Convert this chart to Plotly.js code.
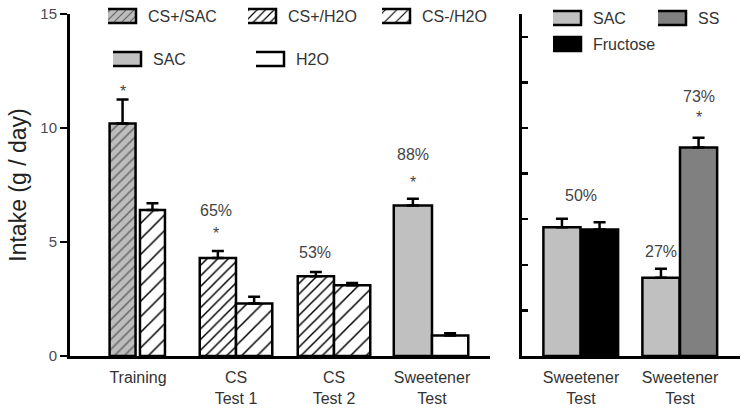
<!DOCTYPE html>
<html><head><meta charset="utf-8">
<script src="https://cdn.plot.ly/plotly-3.0.1.min.js"></script>
<style>html,body{margin:0;padding:0;background:#fff}#chart{width:749px;height:410px}</style>
</head><body><div id="chart"></div>
<script>
// ---- data ----
const leftCategories = ["Training", "CS<br>Test 1", "CS<br>Test 2", "Sweetener<br>Test"];
const rightTickLabels = ["Sweetener<br>Test", "Sweetener<br>Test"];

const csPlusSacX = ["Training"];
const csPlusSacY = [10.2];
const csPlusSacErr = [1.05];

const csPlusH2oX = ["CS<br>Test 1", "CS<br>Test 2"];
const csPlusH2oY = [4.3, 3.5];
const csPlusH2oErr = [0.3, 0.18];

const csMinusH2oX = ["Training", "CS<br>Test 1", "CS<br>Test 2"];
const csMinusH2oY = [6.4, 2.3, 3.1];
const csMinusH2oErr = [0.3, 0.3, 0.1];

const sacLeftX = ["Sweetener<br>Test"];
const sacLeftY = [6.6];
const sacLeftErr = [0.3];

const h2oX = ["Sweetener<br>Test"];
const h2oY = [0.9];
const h2oErr = [0.1];

const sacRightX = [0, 1];
const sacRightY = [5.65, 3.43];
const sacRightErr = [0.37, 0.4];

const fructoseX = [0];
const fructoseY = [5.55];
const fructoseErr = [0.32];

const ssX = [1];
const ssY = [9.15];
const ssErr = [0.42];

// annotation labels: text, group index on its axis, offset within group, y value, axis
const annTexts  = ["*", "65%", "*", "53%", "88%", "*", "50%", "27%", "73%", "*"];
const annGroup  = [0, 1, 1, 2, 3, 3, 0, 1, 1, 1];
const annOffset = [-0.15, -0.2, -0.2, -0.19, -0.19, -0.19, 0, -0.19, 0.19, 0.19];
const annY      = [11.58, 6.40, 5.39, 4.56, 8.82, 7.59, 7.04, 4.58, 11.38, 10.45];
const annAxis   = ["x", "x", "x", "x", "x", "x", "x2", "x2", "x2", "x2"];

// ---- style ----
const FONT = "Liberation Sans, Arial, sans-serif";
const LINE = {color: "#000", width: 2.5};
function errs(arr) {
  return {type: "data", array: arr, arrayminus: arr.map(() => 0), symmetric: false,
          color: "#000", thickness: 2.5, width: 6};
}

const traces = [
  {type: "bar", name: "CS+/SAC", x: csPlusSacX, y: csPlusSacY, error_y: errs(csPlusSacErr),
   width: 0.265, offset: -0.29, xaxis: "x", yaxis: "y", legend: "legend",
   marker: {color: "#bdbdbd", line: LINE, pattern: {shape: "/", size: 7, solidity: 0.2, fgcolor: "#000", bgcolor: "#bdbdbd", fillmode: "overlay"}}},
  {type: "bar", name: "CS+/H2O", x: csPlusH2oX, y: csPlusH2oY, error_y: errs(csPlusH2oErr),
   width: 0.37, offset: -0.37, xaxis: "x", yaxis: "y", legend: "legend2",
   marker: {color: "#fff", line: LINE, pattern: {shape: "/", size: 7.5, solidity: 0.2, fgcolor: "#000", bgcolor: "#fff"}}},
  {type: "bar", name: "CS-/H2O", x: csMinusH2oX, y: csMinusH2oY, error_y: errs(csMinusH2oErr),
   width: [0.255, 0.37, 0.37], offset: [0.02, 0, 0], xaxis: "x", yaxis: "y", legend: "legend3",
   marker: {color: "#fff", line: LINE, pattern: {shape: "/", size: 11, solidity: 0.14, fgcolor: "#000", bgcolor: "#fff"}}},
  {type: "bar", name: "SAC", x: sacLeftX, y: sacLeftY, error_y: errs(sacLeftErr),
   width: 0.39, offset: -0.39, xaxis: "x", yaxis: "y", legend: "legend4",
   marker: {color: "#c0c0c0", line: LINE}},
  {type: "bar", name: "H2O", x: h2oX, y: h2oY, error_y: errs(h2oErr),
   width: 0.37, offset: 0, xaxis: "x", yaxis: "y", legend: "legend5",
   marker: {color: "#fff", line: LINE}},
  {type: "bar", name: "SAC", x: sacRightX, y: sacRightY, error_y: errs(sacRightErr),
   width: 0.375, offset: -0.38, xaxis: "x2", yaxis: "y2", legend: "legend6",
   marker: {color: "#c0c0c0", line: LINE}},
  {type: "bar", name: "SS", x: ssX, y: ssY, error_y: errs(ssErr),
   width: 0.375, offset: 0, xaxis: "x2", yaxis: "y2", legend: "legend7",
   marker: {color: "#808080", line: LINE}},
  {type: "bar", name: "Fructose", x: fructoseX, y: fructoseY, error_y: errs(fructoseErr),
   width: 0.375, offset: 0, xaxis: "x2", yaxis: "y2", legend: "legend8",
   marker: {color: "#000", line: LINE}}
];

// legend placement (text start px, row centre px)
const M = {l: 70, r: 9, t: 14, b: 54, autoexpand: false};
const PW = 749 - M.l - M.r, PH = 410 - M.t - M.b;
const legTextX = [148, 288, 422, 153, 296, 593, 698, 593];
const legRowY  = [16, 16, 16, 59, 59, 18, 18, 44];

const layout = {
  width: 749, height: 410, margin: M,
  paper_bgcolor: "#fff", plot_bgcolor: "#fff",
  font: {family: FONT, size: 16, color: "#333"},
  barmode: "overlay",
  showlegend: true,
  xaxis: {domain: [0, 420 / PW], type: "category", categoryorder: "array", categoryarray: leftCategories,
          range: [-0.694, 3.592], showline: true, linewidth: 3, linecolor: "#000", ticks: "",
          showgrid: false, zeroline: false, tickfont: {size: 16, color: "#333"}, ticklabelstandoff: 5},
  yaxis: {domain: [0, 1], range: [0, 15], tickvals: [0, 5, 10, 15], showline: true, linewidth: 3,
          linecolor: "#000", ticks: "outside", ticklen: 7, tickwidth: 2.5, tickcolor: "#000",
          showgrid: false, zeroline: false, tickfont: {size: 15, color: "#4a4a55"},
          title: {text: "Intake (g / day)", font: {size: 23, color: "#222"}, standoff: 8}},
  xaxis2: {domain: [452 / PW, 1], anchor: "y2", range: [-0.596, 1.606], tickvals: [0, 1], ticktext: rightTickLabels,
           showline: true, linewidth: 3, linecolor: "#000", ticks: "", showgrid: false, zeroline: false,
           tickfont: {size: 16, color: "#333"}, ticklabelstandoff: 5},
  yaxis2: {anchor: "x2", range: [0, 15], dtick: 2, tick0: 0, showticklabels: false, showline: true,
           linewidth: 3, linecolor: "#000", ticks: "inside", ticklen: 6, tickwidth: 2.5, tickcolor: "#000",
           showgrid: false, zeroline: false},
  annotations: annTexts.map((t, i) => ({
    text: t, x: annGroup[i] + annOffset[i], y: annY[i], xref: annAxis[i], yref: annAxis[i] === "x" ? "y" : "y2",
    showarrow: false, font: {size: 16, color: "#444"}, xanchor: "center", yanchor: "middle"}))
};
["legend", "legend2", "legend3", "legend4", "legend5", "legend6", "legend7", "legend8"].forEach((k, i) => {
  layout[k] = {x: (legTextX[i] - 40 - M.l) / PW, y: 1 - (legRowY[i] - M.t) / PH,
               xanchor: "left", yanchor: "middle", bgcolor: "rgba(0,0,0,0)", borderwidth: 0,
               font: {size: 16, color: "#333"}, orientation: "h"};
});

Plotly.newPlot("chart", traces, layout, {displayModeBar: false, staticPlot: true}).then(gd => {
  // widen the legend swatches to the wide rectangles of the original figure
  gd.querySelectorAll(".legendpoints path").forEach(p => {
    p.setAttribute("d", "M8,7H-25V-7H8Z");
  });
});
</script></body></html>
